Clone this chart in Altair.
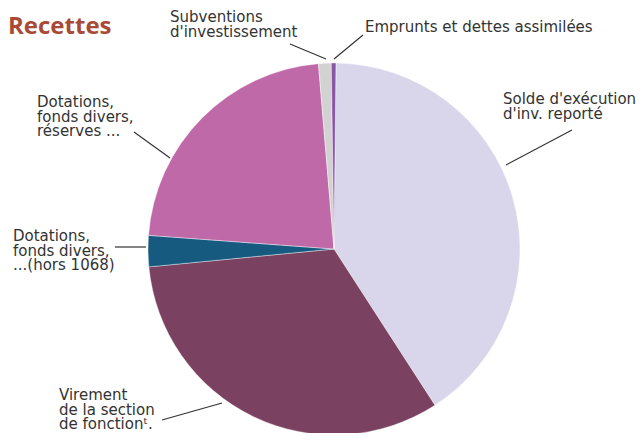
import altair as alt
import pandas as pd

# Data (percent of total receipts), clockwise from 12 o'clock
categories = [
    "Solde d'exécution d'inv. reporté",
    "Virement de la section de fonctionnement",
    "Dotations, fonds divers, ...(hors 1068)",
    "Dotations, fonds divers, réserves ...",
    "Subventions d'investissement",
    "Emprunts et dettes assimilées",
]
values = [40.7, 32.6, 2.7, 22.5, 1.1, 0.4]
colors = ["#d9d6eb", "#7a4260", "#175a80", "#c069a9", "#d2d2d2", "#8b55a6"]

label_texts = [
    "Solde d'exécution\nd'inv. reporté",
    "Virement\nde la section\nde fonctionᵗ.",
    "Dotations,\nfonds divers,\n...(hors 1068)",
    "Dotations,\nfonds divers,\nréserves ...",
    "Subventions\nd'investissement",
    "Emprunts et dettes assimilées",
]

# Layout (pixel positions inside the chart)
W, H = 628, 425
CX, CY, R = 326, 241, 186
label_x = [495, 51, 5, 29, 162, 357]
label_y = [96, 392, 233, 99, 14, 24]
line_x1 = [564, 154, 107, 126, 282, 355]
line_y1 = [122, 412, 239, 124, 36, 27]
line_x2 = [498, 214, 138, 162, 318, 326]
line_y2 = [157, 395, 239, 150, 51, 51]

pie_df = pd.DataFrame({"cat": categories, "val": values, "idx": list(range(len(values)))})
lab_df = pd.DataFrame({"t": label_texts, "x": label_x, "y": label_y})
line_df = pd.DataFrame({"x": line_x1, "y": line_y1, "x2": line_x2, "y2": line_y2})
title_df = pd.DataFrame({"t": ["Recettes"], "x": [0], "y": [26]})

pie = alt.Chart(pie_df).mark_arc(outerRadius=R, stroke="white", strokeWidth=0.4).encode(
    theta=alt.Theta("val:Q", stack=True, scale=alt.Scale(range=[0.0105, 6.2937])),
    color=alt.Color("cat:N", scale=alt.Scale(domain=categories, range=colors), legend=None),
    order=alt.Order("idx:Q"),
    x=alt.value(CX),
    y=alt.value(CY),
)

lines = alt.Chart(line_df).mark_rule(color="#333333", strokeWidth=1.2).encode(
    x=alt.X("x:Q", scale=None),
    y=alt.Y("y:Q", scale=None),
    x2="x2:Q",
    y2="y2:Q",
)

labels = alt.Chart(lab_df).mark_text(
    align="left", baseline="alphabetic", lineBreak="\n", lineHeight=14.5,
    fontSize=15, font="DejaVu Sans", color="#333333",
).encode(
    x=alt.X("x:Q", scale=None),
    y=alt.Y("y:Q", scale=None),
    text="t:N",
)

title = alt.Chart(title_df).mark_text(
    align="left", baseline="alphabetic", fontSize=24, font="Open Sans",
    fontWeight="bold", color="#a84a36",
).encode(
    x=alt.X("x:Q", scale=None),
    y=alt.Y("y:Q", scale=None),
    text="t:N",
)

chart = alt.layer(pie, lines, labels, title).properties(
    width=W, height=H, autosize=alt.AutoSizeParams(type="none"), padding=0
).configure_view(stroke=None)

chart.save("out.html", embed_options={"renderer": "svg", "actions": False})
